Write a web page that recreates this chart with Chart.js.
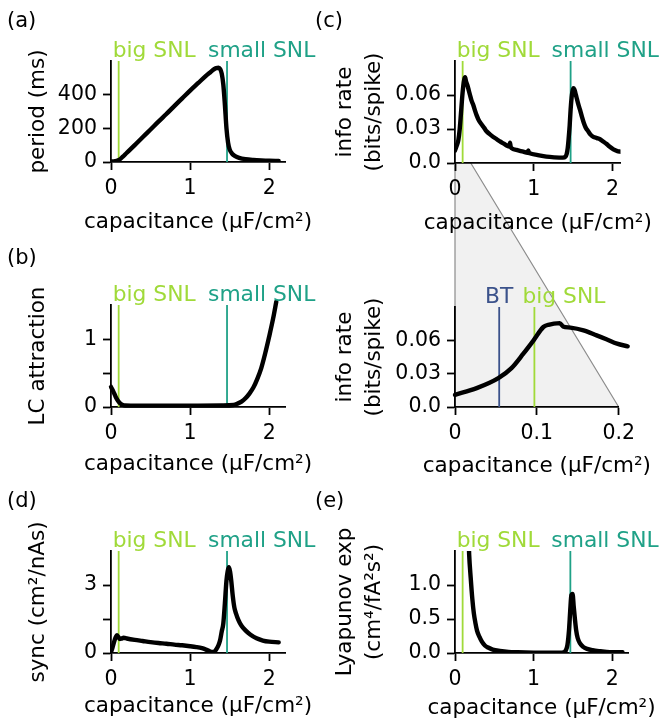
<!DOCTYPE html>
<html>
<head>
<meta charset="utf-8">
<script src="https://cdn.jsdelivr.net/npm/chart.js@4.4.0/dist/chart.umd.min.js"></script>
<style>
  body { margin: 0; background: #fff; }
  #wrap { position: relative; width: 662px; height: 721px; overflow: hidden; }
  #wrap canvas { position: absolute; }
</style>
</head>
<body>
<div id="wrap">
  <canvas id="bg" width="662" height="721" style="left:0;top:0"></canvas>
  <canvas id="chartA" width="331" height="240" style="left:0;top:0"></canvas>
  <canvas id="chartB" width="331" height="240" style="left:0;top:240px"></canvas>
  <canvas id="chartD" width="331" height="241" style="left:0;top:480px"></canvas>
  <canvas id="chartC" width="352" height="240" style="left:310px;top:0"></canvas>
  <canvas id="chartZ" width="352" height="240" style="left:310px;top:240px"></canvas>
  <canvas id="chartE" width="352" height="241" style="left:310px;top:480px"></canvas>
</div>
<script>
// bifurcation points (capacitance, uF/cm2)
const bigSNL = 0.097;
const smallSNL = 1.467;
const btPoint = 0.054;
const zoomRange = [0, 0.2];

// (a) period
const periodCap = [0, 0.05, 0.1, 0.15, 0.2, 0.3, 0.4, 0.5, 0.6, 0.7, 0.8, 0.9, 1.0, 1.1, 1.2, 1.26, 1.3, 1.33, 1.36, 1.38, 1.4, 1.42, 1.44, 1.46, 1.48, 1.5, 1.53, 1.57, 1.62, 1.7, 1.8, 1.9, 2.0, 2.12];
const periodMs = [3, 5, 12, 32, 55, 100, 147, 193, 240, 285, 332, 378, 424, 468, 512, 535, 550, 558, 560, 552, 525, 460, 340, 200, 115, 75, 50, 35, 25, 17, 12, 9, 7, 6];

// (b) LC attraction
const lcCap = [0, 0.03, 0.06, 0.09, 0.12, 0.15, 0.18, 0.25, 0.5, 0.8, 1.1, 1.4, 1.55, 1.6, 1.65, 1.7, 1.75, 1.8, 1.85, 1.9, 1.95, 2.0, 2.05, 2.09];
const lcVal = [0.3, 0.23, 0.15, 0.09, 0.05, 0.03, 0.022, 0.02, 0.02, 0.02, 0.02, 0.022, 0.03, 0.05, 0.08, 0.13, 0.2, 0.29, 0.42, 0.58, 0.8, 1.05, 1.32, 1.57];

// (c) info rate
const infoCap = [0, 0.02, 0.042, 0.06, 0.075, 0.09, 0.105, 0.118, 0.128, 0.14, 0.156, 0.175, 0.19, 0.21, 0.233, 0.255, 0.275, 0.3, 0.338, 0.37, 0.4, 0.44, 0.486, 0.53, 0.571, 0.62, 0.655, 0.69, 0.698, 0.706, 0.72, 0.78, 0.867, 0.92, 0.93, 0.94, 0.95, 1.05, 1.16, 1.26, 1.37, 1.4, 1.417, 1.43, 1.44, 1.455, 1.467, 1.48, 1.49, 1.502, 1.514, 1.527, 1.54, 1.56, 1.586, 1.61, 1.636, 1.66, 1.69, 1.72, 1.755, 1.8, 1.84, 1.88, 1.92, 1.96, 2.01, 2.06, 2.1];
const infoBits = [0.011, 0.015, 0.02, 0.03, 0.043, 0.057, 0.068, 0.074, 0.0756, 0.072, 0.069, 0.064, 0.06, 0.055, 0.051, 0.046, 0.042, 0.038, 0.034, 0.031, 0.028, 0.0255, 0.023, 0.021, 0.019, 0.017, 0.0155, 0.0145, 0.018, 0.0145, 0.013, 0.0115, 0.01, 0.009, 0.011, 0.009, 0.0085, 0.007, 0.0056, 0.005, 0.0047, 0.0055, 0.008, 0.013, 0.02, 0.033, 0.047, 0.058, 0.063, 0.066, 0.065, 0.062, 0.0585, 0.053, 0.047, 0.041, 0.035, 0.031, 0.028, 0.025, 0.023, 0.022, 0.021, 0.019, 0.017, 0.0145, 0.012, 0.0105, 0.01];

// (c) zoomed view near the big SNL
const zoomCap = [0, 0.0265, 0.053, 0.069, 0.0835, 0.096, 0.108, 0.114, 0.128, 0.132, 0.141, 0.157, 0.173, 0.185, 0.198, 0.211];
const zoomBits = [0.011, 0.017, 0.026, 0.035, 0.048, 0.06, 0.072, 0.074, 0.0755, 0.0725, 0.0715, 0.069, 0.0645, 0.061, 0.057, 0.0546];

// (d) sync
const syncCap = [0, 0.02, 0.04, 0.06, 0.075, 0.09, 0.11, 0.13, 0.16, 0.2, 0.3, 0.4, 0.5, 0.6, 0.7, 0.8, 0.9, 1.0, 1.08, 1.15, 1.2, 1.24, 1.27, 1.3, 1.33, 1.36, 1.38, 1.4, 1.42, 1.44, 1.46, 1.475, 1.49, 1.505, 1.52, 1.54, 1.56, 1.58, 1.61, 1.65, 1.7, 1.76, 1.84, 1.92, 2.0, 2.12];
const syncVal = [0.03, 0.25, 0.5, 0.7, 0.78, 0.72, 0.62, 0.63, 0.67, 0.64, 0.58, 0.53, 0.48, 0.44, 0.41, 0.37, 0.34, 0.3, 0.26, 0.21, 0.15, 0.09, 0.05, 0.05, 0.15, 0.35, 0.57, 0.95, 1.3, 2.2, 3.2, 3.6, 3.78, 3.6, 3.2, 2.5, 2.0, 1.75, 1.46, 1.2, 1.0, 0.82, 0.65, 0.55, 0.5, 0.47];

// (e) Lyapunov exponent
const lyapCap = [0.14, 0.16, 0.18, 0.2, 0.22, 0.24, 0.26, 0.28, 0.31, 0.34, 0.38, 0.42, 0.48, 0.57, 0.68, 0.8, 1.0, 1.2, 1.33, 1.38, 1.41, 1.43, 1.45, 1.465, 1.48, 1.495, 1.51, 1.525, 1.54, 1.56, 1.59, 1.63, 1.68, 1.75, 1.85, 1.97, 2.13];
const lyapVal = [3.0, 2.1, 1.45, 1.1, 0.8, 0.58, 0.44, 0.33, 0.24, 0.17, 0.11, 0.08, 0.05, 0.03, 0.015, 0.01, 0.005, 0.004, 0.005, 0.01, 0.04, 0.12, 0.34, 0.62, 0.85, 0.87, 0.68, 0.5, 0.34, 0.22, 0.14, 0.09, 0.06, 0.04, 0.025, 0.012, 0.01];

// ticks
const capTicks = [0, 1, 2];
const capLabels = ['0', '1', '2'];
const zoomTicks = [0, 0.1, 0.2];
const zoomLabels = ['0', '0.1', '0.2'];
const periodTicks = [0, 200, 400];
const periodLabels = ['0', '200', '400'];
const lcTicks = [0, 0.5, 1];
const lcLabels = ['0', '', '1'];
const infoTicks = [0, 0.03, 0.06];
const infoLabels = ['0.0', '0.03', '0.06'];
const syncTicks = [0, 1.5, 3];
const syncLabels = ['0', '', '3'];
const lyapTicks = [0, 0.5, 1];
const lyapLabels = ['0.0', '0.5', '1.0'];

const xTitle = 'capacitance (µF/cm²)';

const GREEN = '#a0da39';
const TEAL = '#1fa187';
const BLUE = '#3b528b';
const FONT = '"DejaVu Sans", Verdana, sans-serif';
Chart.defaults.font.family = FONT;
Chart.defaults.color = '#000';

// draws the text above each marker line, the x title and the panel letter
const markText = {
  id: 'markText',
  afterDraw(chart, args, opts) {
    const ctx = chart.ctx;
    const xs = chart.scales.x;
    const area = chart.chartArea;
    ctx.save();
    ctx.font = '21.8px ' + FONT;
    ctx.textBaseline = 'alphabetic';
    (opts.tags || []).forEach(t => {
      ctx.fillStyle = t.color;
      ctx.textAlign = t.align || 'left';
      ctx.fillText(t.text, xs.getPixelForValue(t.at) + t.dx, area.top - 4);
    });
    ctx.fillStyle = '#000';
    if (opts.letter) {
      ctx.font = '21px ' + FONT;
      ctx.textAlign = 'left';
      ctx.fillText(opts.letter, opts.lx, opts.ly);
    }
    ctx.font = '21.5px ' + FONT;
    ctx.textAlign = 'center';
    ctx.textBaseline = 'middle';
    ctx.fillText(xTitle, (area.left + area.right) / 2, opts.titleY);
    ctx.restore();
  }
};

function makePanel(id, p) {
  const curve = {
    data: p.xs.map((v, i) => ({ x: v, y: p.ys[i] })),
    borderColor: '#000',
    borderWidth: 4.4,
    pointRadius: 0,
    cubicInterpolationMode: 'monotone',
    borderJoinStyle: 'round',
    borderCapStyle: 'round'
  };
  if (p.clip !== undefined) curve.clip = p.clip;
  const datasets = [curve];
  p.tags.forEach(t => {
    datasets.push({
      data: [{ x: t.at, y: 0 }, { x: t.at, y: p.yMax }],
      borderColor: t.color,
      borderWidth: 1.8,
      pointRadius: 0
    });
  });

  return new Chart(document.getElementById(id), {
    type: 'line',
    data: { datasets: datasets },
    plugins: [markText],
    options: {
      responsive: false,
      animation: false,
      events: [],
      layout: { padding: { left: 0, top: p.top, right: p.right, bottom: 0 }, autoPadding: false },
      plugins: {
        legend: { display: false },
        tooltip: { enabled: false },
        markText: { tags: p.tags, letter: p.letter, lx: p.lx, ly: p.ly, titleY: p.titleY }
      },
      scales: {
        x: {
          type: 'linear',
          min: 0,
          max: p.xMax,
          afterBuildTicks: s => { s.ticks = p.xTicks.map(v => ({ value: v })); },
          afterFit: s => { s.height = p.xH; },
          ticks: { callback: (v, i) => p.xLabels[i], font: { size: 20.5 }, padding: 6, maxRotation: 0, autoSkip: false, color: '#000' },
          grid: { drawOnChartArea: false, tickLength: 8, tickWidth: 1.8, tickColor: '#000' },
          border: { color: '#000', width: 1.8 }
        },
        y: {
          type: 'linear',
          min: 0,
          max: p.yMax,
          afterBuildTicks: s => { s.ticks = p.yTicks.map(v => ({ value: v })); },
          afterFit: s => { s.width = p.yW; },
          ticks: { callback: (v, i) => p.yLabels[i], font: { size: 20.5 }, padding: 6, autoSkip: false, color: '#000' },
          grid: { drawOnChartArea: false, tickLength: 8, tickWidth: 1.8, tickColor: '#000' },
          border: { color: '#000', width: 1.8 },
          title: { display: true, text: p.yTitle, color: '#000', font: { size: 21.5, lineHeight: 1.35 }, padding: { top: p.yTitlePad, bottom: 0 } }
        }
      }
    }
  });
}

const snlTags = [
  { text: 'big SNL', at: bigSNL, dx: -6, color: GREEN },
  { text: 'small SNL', at: smallSNL, dx: -19, color: TEAL }
];

makePanel('chartA', {
  xs: periodCap, ys: periodMs, xMax: 2.2, yMax: 600,
  xTicks: capTicks, xLabels: capLabels, yTicks: periodTicks, yLabels: periodLabels,
  yTitle: 'period (ms)', tags: snlTags, letter: '(a)', lx: 7, ly: 27,
  top: 61, right: 46, xH: 78, yW: 111, titleY: 222, yTitlePad: 24
});

makePanel('chartB', {
  xs: lcCap, ys: lcVal, xMax: 2.2, yMax: 1.52, clip: false,
  xTicks: capTicks, xLabels: capLabels, yTicks: lcTicks, yLabels: lcLabels,
  yTitle: 'LC attraction', tags: snlTags, letter: '(b)', lx: 7, ly: 24,
  top: 65, right: 46, xH: 73, yW: 111, titleY: 224, yTitlePad: 24
});

makePanel('chartD', {
  xs: syncCap, ys: syncVal, xMax: 2.2, yMax: 4.5,
  xTicks: capTicks, xLabels: capLabels, yTicks: syncTicks, yLabels: syncLabels,
  yTitle: 'sync (cm²/nAs)', tags: snlTags, letter: '(d)', lx: 7, ly: 27,
  top: 71, right: 46, xH: 68, yW: 111, titleY: 226, yTitlePad: 24
});

const chartC = makePanel('chartC', {
  xs: infoCap, ys: infoBits, xMax: 2.1, yMax: 0.09,
  xTicks: capTicks, xLabels: capLabels, yTicks: infoTicks, yLabels: infoLabels,
  yTitle: ['info rate', '(bits/spike)'], tags: snlTags, letter: '(c)', lx: 5, ly: 27,
  top: 61, right: 41.5, xH: 77, yW: 145, titleY: 223, yTitlePad: 20.5
});

const chartZ = makePanel('chartZ', {
  xs: zoomCap, ys: zoomBits, xMax: zoomRange[1], yMax: 0.09, clip: false,
  xTicks: zoomTicks, xLabels: zoomLabels, yTicks: infoTicks, yLabels: infoLabels,
  yTitle: ['info rate', '(bits/spike)'],
  tags: [
    { text: 'BT', at: btPoint, dx: 0, color: BLUE, align: 'center' },
    { text: 'big SNL', at: bigSNL, dx: -12, color: GREEN }
  ],
  top: 67, right: 43.3, xH: 73, yW: 145, titleY: 226, yTitlePad: 20.5
});

makePanel('chartE', {
  xs: lyapCap, ys: lyapVal, xMax: 2.2, yMax: 1.5,
  xTicks: capTicks, xLabels: capLabels, yTicks: lyapTicks, yLabels: lyapLabels,
  yTitle: ['Lyapunov exp', '(cm⁴/fA²s²)'], tags: snlTags, letter: '(e)', lx: 5, ly: 27,
  top: 71, right: 34, xH: 68, yW: 145, titleY: 228, yTitlePad: 20.5
});

// grey wedge joining the zoomed range of (c) to the inset
function drawWedge() {
  const ctx = document.getElementById('bg').getContext('2d');
  const offC = { left: 310, top: 0 };
  const offZ = { left: 310, top: 240 };
  const cx = chartC.scales.x, cy = chartC.scales.y;
  const zx = chartZ.scales.x, zy = chartZ.scales.y;
  const p1 = [offC.left + cx.getPixelForValue(zoomRange[0]), offC.top + cy.getPixelForValue(0)];
  const p2 = [offC.left + cx.getPixelForValue(zoomRange[1]), offC.top + cy.getPixelForValue(0)];
  const p3 = [offZ.left + zx.getPixelForValue(zoomRange[1]), offZ.top + zy.getPixelForValue(0)];
  const p4 = [offZ.left + zx.getPixelForValue(zoomRange[0]), offZ.top + zy.getPixelForValue(0)];
  ctx.fillStyle = '#f1f1f1';
  ctx.beginPath();
  ctx.moveTo(p1[0], p1[1]);
  ctx.lineTo(p2[0], p2[1]);
  ctx.lineTo(p3[0], p3[1]);
  ctx.lineTo(p4[0], p4[1]);
  ctx.closePath();
  ctx.fill();
  ctx.strokeStyle = '#8c8c8c';
  ctx.lineWidth = 1.2;
  ctx.beginPath();
  ctx.moveTo(p1[0], p1[1]); ctx.lineTo(p4[0], p4[1]);
  ctx.moveTo(p2[0], p2[1]); ctx.lineTo(p3[0], p3[1]);
  ctx.stroke();
}
drawWedge();
</script>
</body>
</html>
